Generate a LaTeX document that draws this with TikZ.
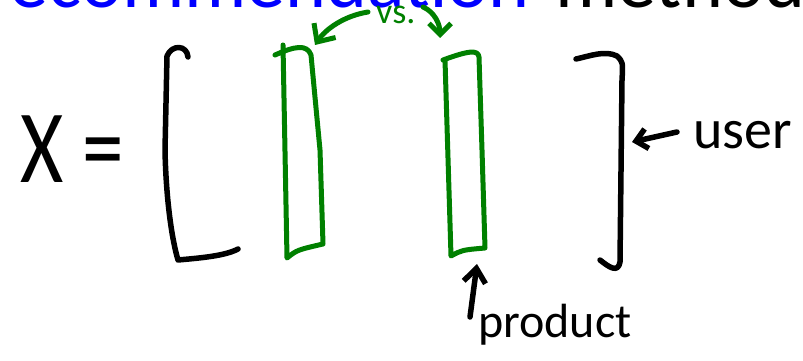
\documentclass[tikz,border=0pt]{standalone}
\usepackage{fontspec}
\setmainfont{Carlito}
\usepackage{graphicx}
\usetikzlibrary{arrows.meta}
\definecolor{titleBlue}{RGB}{0,0,255}
\definecolor{penGreen}{RGB}{0,128,0}

\begin{document}
\begin{tikzpicture}[x=1pt, y=-1pt,
    ink/.style={line width=5.5pt, line cap=round, line join=round},
    greenink/.style={line width=5pt, line cap=round, line join=round, draw=penGreen},
    hand/.style={inner sep=0pt, font=\fontsize{#1}{#1}\selectfont}]
    \useasboundingbox (0,0) rectangle (803,361);
    \clip (0,0) rectangle (803,361);

    % title, cut at the top
    \node[hand=78, anchor=base east, text=titleBlue] (titleA) at (530,8) {ecommendation};
    \node[hand=78, anchor=base west] (titleB) at (555,8) {method};

    % X =
    \node[hand=104, anchor=base west] (xeq) at (20,182) {\scalebox{0.8}[1]{X =}};

    % brackets
    \draw[ink] (188,57) .. controls (187,45) and (172,44) .. (167,56) -- (165,150)
        .. controls (166,200) and (172,240) .. (178,260) .. controls (200,258) and (225,256) .. (238,249);
    \draw[ink] (576,59) .. controls (590,56) and (605,50) .. (617,56) .. controls (623,62) .. (622,80)
        -- (620,262) .. controls (618,273) and (610,268) .. (600,260);

    % columns
    \draw[greenink] (283,45) -- (287,258) .. controls (297,250) .. (323,244) -- (320,150)
        -- (311,55) .. controls (307,44) and (295,46) .. (275,55);
    \draw[greenink] (445,60) -- (451,256) .. controls (462,250) .. (485,248) -- (482,150)
        -- (479,57) .. controls (478,50) and (470,50) .. (443,60);
    \coordinate (colAtop) at (315,45);
    \coordinate (colBtop) at (440,38);
    \coordinate (colBbot) at (477,264);
    \coordinate (rightbr) at (632,142);

    % vs.
    \node[hand=36, anchor=base west, text=penGreen] (vs) at (376,24) {vs.};
    \coordinate (vsL) at (368,12);
    \coordinate (vsR) at (423,7);
    \draw[greenink, -{Straight Barb[length=14pt, width=26pt]}] (vsL) .. controls (343,16) and (325,30) .. (colAtop);
    \draw[greenink, -{Straight Barb[length=11pt, width=22pt]}] (vsR) .. controls (435,12) and (440,25) .. (colBtop);

    % user
    \node[hand=56, anchor=base west] (user) at (693,148) {user};
    \coordinate (userL) at (677,132);
    \draw[ink, -{Straight Barb[length=11pt, width=20pt]}] (userL) -- (rightbr);

    % product
    \node[hand=48, anchor=base west] (product) at (478,337) {product};
    \coordinate (prodL) at (470,317);
    \draw[ink, -{Straight Barb[length=14pt, width=22pt]}] (prodL) -- (colBbot);
\end{tikzpicture}
\end{document}
